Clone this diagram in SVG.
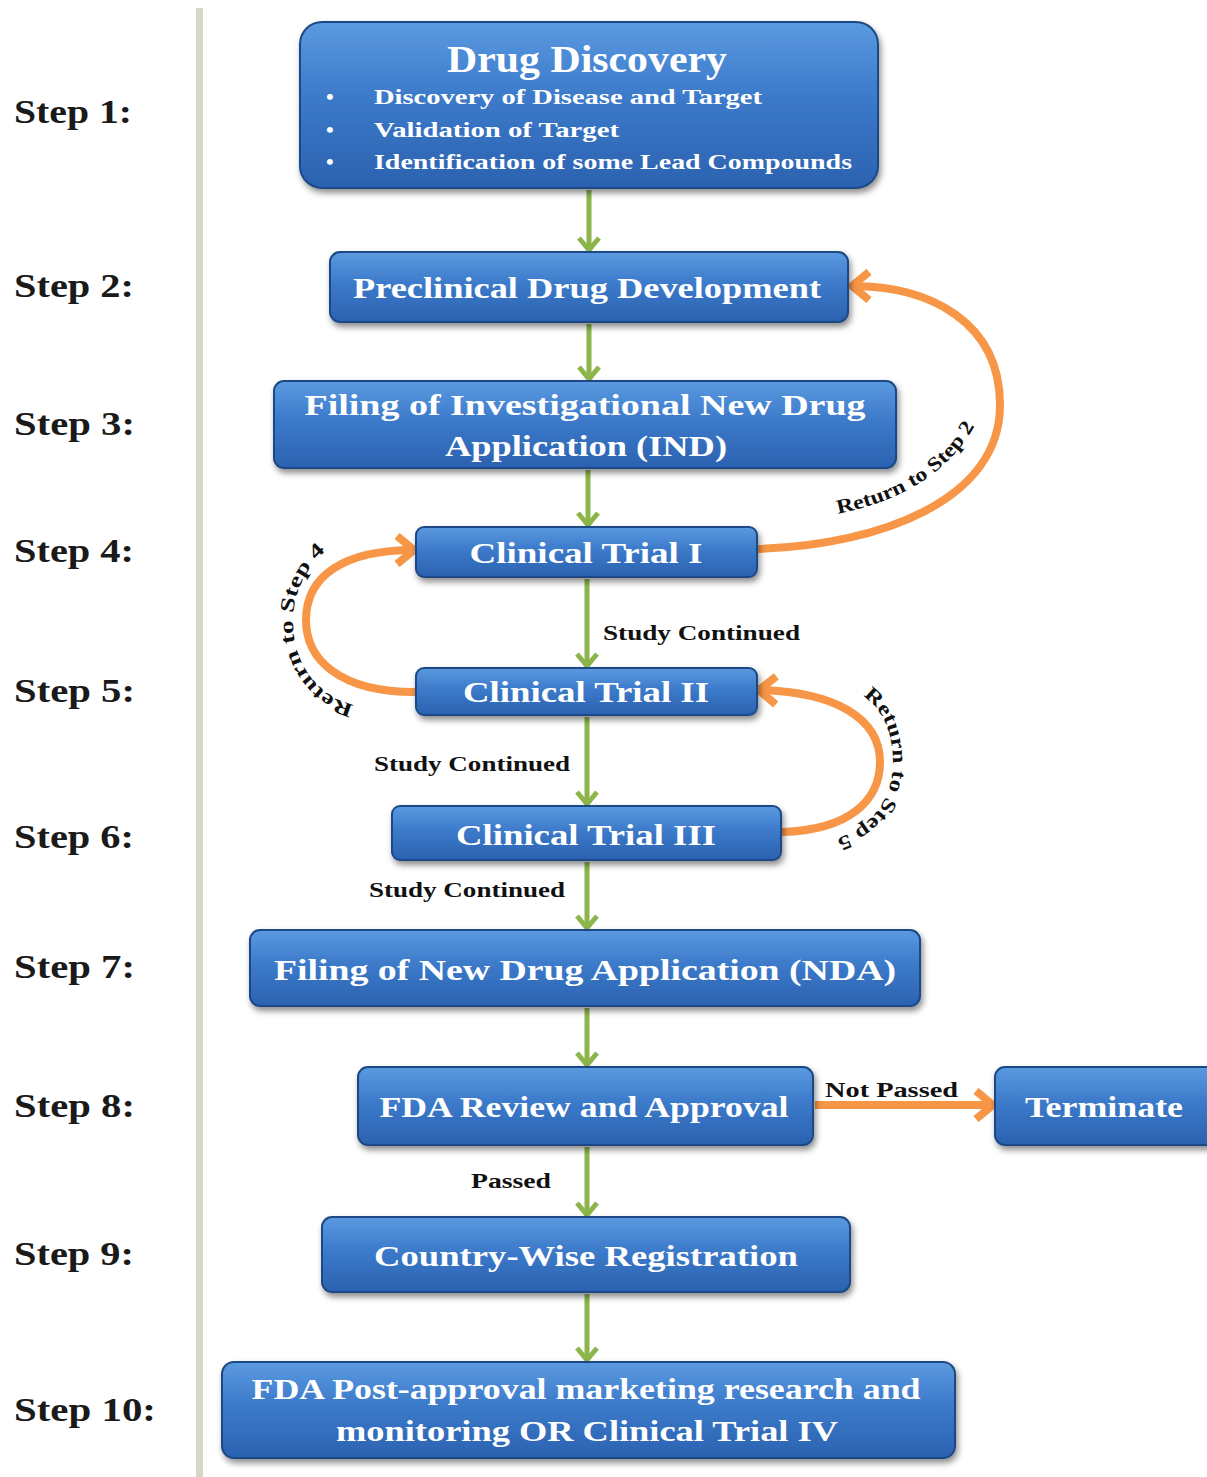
<svg xmlns="http://www.w3.org/2000/svg" width="1207" height="1477" viewBox="0 0 1207 1477">
  <defs>
    <linearGradient id="boxGrad" x1="0" y1="0" x2="0" y2="1">
      <stop offset="0" stop-color="#5b9ae0"/>
      <stop offset="0.45" stop-color="#3c7aca"/>
      <stop offset="1" stop-color="#2b62b0"/>
    </linearGradient>
    <filter id="shadow" x="-10%" y="-20%" width="120%" height="150%">
      <feDropShadow dx="2" dy="4" stdDeviation="3" flood-color="#000" flood-opacity="0.45"/>
    </filter>
    <marker id="greenHead" viewBox="0 0 18 24" refX="15" refY="12" markerWidth="18" markerHeight="24" markerUnits="userSpaceOnUse" orient="auto">
      <path d="M3,2 L15,12 L3,22" fill="none" stroke="#8db54b" stroke-width="5" stroke-linejoin="miter"/>
    </marker>
    <marker id="orangeHead" viewBox="0 0 26 34" refX="21" refY="17" markerWidth="26" markerHeight="34" markerUnits="userSpaceOnUse" orient="auto">
      <path d="M4,3 L21,17 L4,31" fill="none" stroke="#f79646" stroke-width="8" stroke-linejoin="miter"/>
    </marker>
    <path id="tp2" d="M836,514 C 900,502 962,470 986,400"/>
    <path id="tp4" d="M366,706 C 322,704 293,666 293,622 C 293,578 322,546 352,536"/>
    <path id="tp5" d="M850,690 C 880,700 893,730 893,762 C 893,808 860,842 800,846"/>
  </defs>
  <style>
    .box { fill: url(#boxGrad); stroke: #1f4a86; stroke-width: 2; filter: url(#shadow); }
    .bt { font-family: "Liberation Serif", "DejaVu Serif", serif; font-weight: bold; fill: #ffffff; text-anchor: middle; }
    .step { font-family: "Liberation Serif", "DejaVu Serif", serif; font-weight: bold; font-size: 34px; fill: #1a1a1a; }
    .lbl { font-family: "Liberation Serif", "DejaVu Serif", serif; font-weight: bold; font-size: 20px; fill: #111111; }
    .green { stroke: #8db54b; stroke-width: 5; fill: none; marker-end: url(#greenHead); }
    .orange { stroke: #f79646; stroke-width: 8; fill: none; marker-end: url(#orangeHead); }
  </style>
  <rect x="0" y="0" width="1207" height="1477" fill="#ffffff"/>
  <rect x="196" y="8" width="7" height="1469" fill="#d8d6c8"/>

  <g id="step-labels">
    <text class="step" x="14" y="123" textLength="118" lengthAdjust="spacingAndGlyphs">Step 1:</text>
    <text class="step" x="14" y="297" textLength="120" lengthAdjust="spacingAndGlyphs">Step 2:</text>
    <text class="step" x="14" y="435" textLength="121" lengthAdjust="spacingAndGlyphs">Step 3:</text>
    <text class="step" x="14" y="562" textLength="120" lengthAdjust="spacingAndGlyphs">Step 4:</text>
    <text class="step" x="14" y="702" textLength="121" lengthAdjust="spacingAndGlyphs">Step 5:</text>
    <text class="step" x="14" y="848" textLength="120" lengthAdjust="spacingAndGlyphs">Step 6:</text>
    <text class="step" x="14" y="978" textLength="121" lengthAdjust="spacingAndGlyphs">Step 7:</text>
    <text class="step" x="14" y="1117" textLength="121" lengthAdjust="spacingAndGlyphs">Step 8:</text>
    <text class="step" x="14" y="1265" textLength="120" lengthAdjust="spacingAndGlyphs">Step 9:</text>
    <text class="step" x="14" y="1421" textLength="142" lengthAdjust="spacingAndGlyphs">Step 10:</text>
  </g>

  <g id="connectors">
    <line class="green" x1="589" y1="190" x2="589" y2="250"/>
    <line class="green" x1="589" y1="324" x2="589" y2="379"/>
    <line class="green" x1="588" y1="470" x2="588" y2="525"/>
    <line class="green" x1="587" y1="579" x2="587" y2="666"/>
    <line class="green" x1="587" y1="717" x2="587" y2="804"/>
    <line class="green" x1="587" y1="862" x2="587" y2="928"/>
    <line class="green" x1="587" y1="1008" x2="587" y2="1065"/>
    <line class="green" x1="587" y1="1147" x2="587" y2="1215"/>
    <line class="green" x1="587" y1="1294" x2="587" y2="1360"/>
    <path class="orange" d="M758,549 C 880,545 1000,500 1000,405 C 1000,322 930,286 852,286"/>
    <path class="orange" d="M415,692 C 340,692 306,660 306,620 C 306,575 345,550 414,550"/>
    <path class="orange" d="M782,832 C 850,830 880,800 880,762 C 880,718 835,692 759,690"/>
    <path class="orange" d="M815,1105 L 993,1105"/>
    <text class="lbl"><textPath href="#tp2" startOffset="2" textLength="168" lengthAdjust="spacingAndGlyphs">Return to Step 2</textPath></text>
    <text class="lbl"><textPath href="#tp4" startOffset="12" textLength="192" lengthAdjust="spacingAndGlyphs">Return to Step 4</textPath></text>
    <text class="lbl"><textPath href="#tp5" startOffset="14" textLength="178" lengthAdjust="spacingAndGlyphs">Return to Step 5</textPath></text>
    <text class="lbl" x="603" y="640" textLength="197" lengthAdjust="spacingAndGlyphs">Study Continued</text>
    <text class="lbl" x="374" y="771" textLength="196" lengthAdjust="spacingAndGlyphs">Study Continued</text>
    <text class="lbl" x="369" y="897" textLength="196" lengthAdjust="spacingAndGlyphs">Study Continued</text>
    <text class="lbl" x="471" y="1188" textLength="80" lengthAdjust="spacingAndGlyphs">Passed</text>
    <text class="lbl" x="825" y="1097" textLength="133" lengthAdjust="spacingAndGlyphs">Not Passed</text>
  </g>

  <g id="node-drug-discovery">
    <rect class="box" x="300" y="22" width="578" height="166" rx="22"/>
    <text class="bt" x="587" y="72" font-size="38" textLength="280" lengthAdjust="spacingAndGlyphs">Drug Discovery</text>
    <g font-family="Liberation Serif, serif" font-weight="bold" font-size="22" fill="#ffffff">
      <text x="326" y="104">•</text>
      <text x="374" y="104" textLength="388" lengthAdjust="spacingAndGlyphs">Discovery of Disease and Target</text>
      <text x="326" y="137">•</text>
      <text x="374" y="137" textLength="245" lengthAdjust="spacingAndGlyphs">Validation of Target</text>
      <text x="326" y="169">•</text>
      <text x="374" y="169" textLength="478" lengthAdjust="spacingAndGlyphs">Identification of some Lead Compounds</text>
    </g>
  </g>

  <g id="node-preclinical">
    <rect class="box" x="330" y="252" width="518" height="70" rx="10"/>
    <text class="bt" x="587" y="298" font-size="30" textLength="468" lengthAdjust="spacingAndGlyphs">Preclinical Drug Development</text>
  </g>

  <g id="node-ind">
    <rect class="box" x="274" y="381" width="622" height="87" rx="10"/>
    <text class="bt" x="585" y="415" font-size="30" textLength="561" lengthAdjust="spacingAndGlyphs">Filing of Investigational New Drug</text>
    <text class="bt" x="586" y="456" font-size="30" textLength="282" lengthAdjust="spacingAndGlyphs">Application (IND)</text>
  </g>

  <g id="node-ct1">
    <rect class="box" x="416" y="527" width="341" height="50" rx="8"/>
    <text class="bt" x="586" y="563" font-size="30" textLength="233" lengthAdjust="spacingAndGlyphs">Clinical Trial I</text>
  </g>

  <g id="node-ct2">
    <rect class="box" x="416" y="668" width="341" height="47" rx="8"/>
    <text class="bt" x="586" y="702" font-size="30" textLength="246" lengthAdjust="spacingAndGlyphs">Clinical Trial II</text>
  </g>

  <g id="node-ct3">
    <rect class="box" x="392" y="806" width="389" height="54" rx="8"/>
    <text class="bt" x="586" y="845" font-size="30" textLength="260" lengthAdjust="spacingAndGlyphs">Clinical Trial III</text>
  </g>

  <g id="node-nda">
    <rect class="box" x="250" y="930" width="670" height="76" rx="10"/>
    <text class="bt" x="585" y="980" font-size="30" textLength="622" lengthAdjust="spacingAndGlyphs">Filing of New Drug Application (NDA)</text>
  </g>

  <g id="node-fda-review">
    <rect class="box" x="358" y="1067" width="455" height="78" rx="10"/>
    <text class="bt" x="584" y="1117" font-size="30" textLength="409" lengthAdjust="spacingAndGlyphs">FDA Review and Approval</text>
  </g>

  <g id="node-terminate">
    <rect class="box" x="995" y="1067" width="222" height="78" rx="10"/>
    <text class="bt" x="1104" y="1117" font-size="30" textLength="158" lengthAdjust="spacingAndGlyphs">Terminate</text>
  </g>

  <g id="node-country">
    <rect class="box" x="322" y="1217" width="528" height="75" rx="10"/>
    <text class="bt" x="586" y="1266" font-size="30" textLength="424" lengthAdjust="spacingAndGlyphs">Country-Wise Registration</text>
  </g>

  <g id="node-post-approval">
    <rect class="box" x="222" y="1362" width="733" height="96" rx="12"/>
    <text class="bt" x="586" y="1399" font-size="30" textLength="669" lengthAdjust="spacingAndGlyphs">FDA Post-approval marketing research and</text>
    <text class="bt" x="587" y="1441" font-size="30" textLength="502" lengthAdjust="spacingAndGlyphs">monitoring OR Clinical Trial IV</text>
  </g>
</svg>
